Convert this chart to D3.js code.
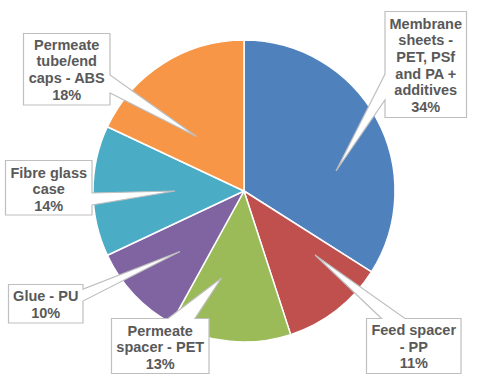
<!DOCTYPE html>
<html>
<head>
<meta charset="utf-8">
<script src="https://cdn.jsdelivr.net/npm/d3@7"></script>
<style>
html,body{margin:0;padding:0;background:#fff;}
svg{display:block;}
</style>
</head>
<body>
<svg id="chart" width="486" height="381"></svg>
<script>
// ---- data ----
const categories = ["Membrane sheets - PET, PSf and PA + additives", "Feed spacer - PP", "Permeate spacer - PET", "Glue - PU", "Fibre glass case", "Permeate tube/end caps - ABS"];
const values = [34, 11, 13, 10, 14, 18];
const labelLines = [
  ["Membrane", "sheets -", "PET, PSf", "and PA +", "additives"],
  ["Feed spacer", "- PP"],
  ["Permeate", "spacer - PET"],
  ["Glue - PU"],
  ["Fibre glass", "case"],
  ["Permeate", "tube/end", "caps - ABS"]
];
const colors = ["#4F81BD", "#C0504D", "#9BBB59", "#8064A2", "#4BACC6", "#F79646"];

// ---- layout (callout boxes) ----
const cx = 244, cy = 191, R = 151;
const callouts = [
  {box:[385, 11.5, 466.5, 117.5], side:"left",   base:[74, 100],   tip:[336, 171], y0:28.5},
  {box:[366.5, 318.5, 461, 373.5], side:"top",   base:[381.5, 405], tip:[315, 255], y0:335},
  {box:[111.5, 318.5, 209, 373.5], side:"top",   base:[168, 195],  tip:[221.5, 278], y0:335.5},
  {box:[8.5, 284.5, 83, 323],      side:"right", base:[289, 301],  tip:[180, 251.5], y0:301},
  {box:[5.5, 160.5, 92, 215],      side:"right", base:[193, 205],  tip:[175, 191], y0:177.5},
  {box:[23.5, 33.5, 110, 105],     side:"right", base:[75, 93],    tip:[196.5, 136.5], y0:49.5}
];
const lineH = 16.7;

const svg = d3.select("#chart");
const total = d3.sum(values);
const pie = d3.pie().sort(null).value(d => d)(values);
const arc = d3.arc().innerRadius(0).outerRadius(R);

const g = svg.append("g").attr("transform", `translate(${cx},${cy})`);
g.selectAll("path.slice").data(pie).join("path")
  .attr("class", "slice")
  .attr("d", arc)
  .attr("fill", (d, i) => colors[i])
  .attr("stroke", "#fff")
  .attr("stroke-width", 1.5)
  .attr("stroke-linejoin", "round");

function calloutPath(c) {
  const [x0, y0, x1, y1] = c.box;
  const [b1, b2] = c.base;
  const [tx, ty] = c.tip;
  const p = d3.path();
  p.moveTo(x0, y0);
  if (c.side === "top") { p.lineTo(b1, y0); p.lineTo(tx, ty); p.lineTo(b2, y0); }
  p.lineTo(x1, y0);
  if (c.side === "right") { p.lineTo(x1, b1); p.lineTo(tx, ty); p.lineTo(x1, b2); }
  p.lineTo(x1, y1);
  p.lineTo(x0, y1);
  if (c.side === "left") { p.lineTo(x0, b2); p.lineTo(tx, ty); p.lineTo(x0, b1); }
  p.closePath();
  return p.toString();
}

const lg = svg.append("g");
callouts.forEach((c, i) => {
  lg.append("path")
    .attr("d", calloutPath(c))
    .attr("fill", "#fff")
    .attr("stroke", "#bfbfbf")
    .attr("stroke-width", 1.2)
    .attr("stroke-linejoin", "miter");
  const xm = (c.box[0] + c.box[2]) / 2;
  const lines = labelLines[i].concat([d3.format(".0%")(values[i] / total)]);
  const t = lg.append("text")
    .attr("x", xm)
    .attr("text-anchor", "middle")
    .attr("font-family", "'Liberation Sans', Arial, sans-serif")
    .attr("font-weight", "bold")
    .attr("font-size", "14.5px")
    .attr("fill", "#595959");
  lines.forEach((s, k) => {
    t.append("tspan").attr("x", xm).attr("y", c.y0 + k * lineH).text(s);
  });
});
</script>
</body>
</html>
